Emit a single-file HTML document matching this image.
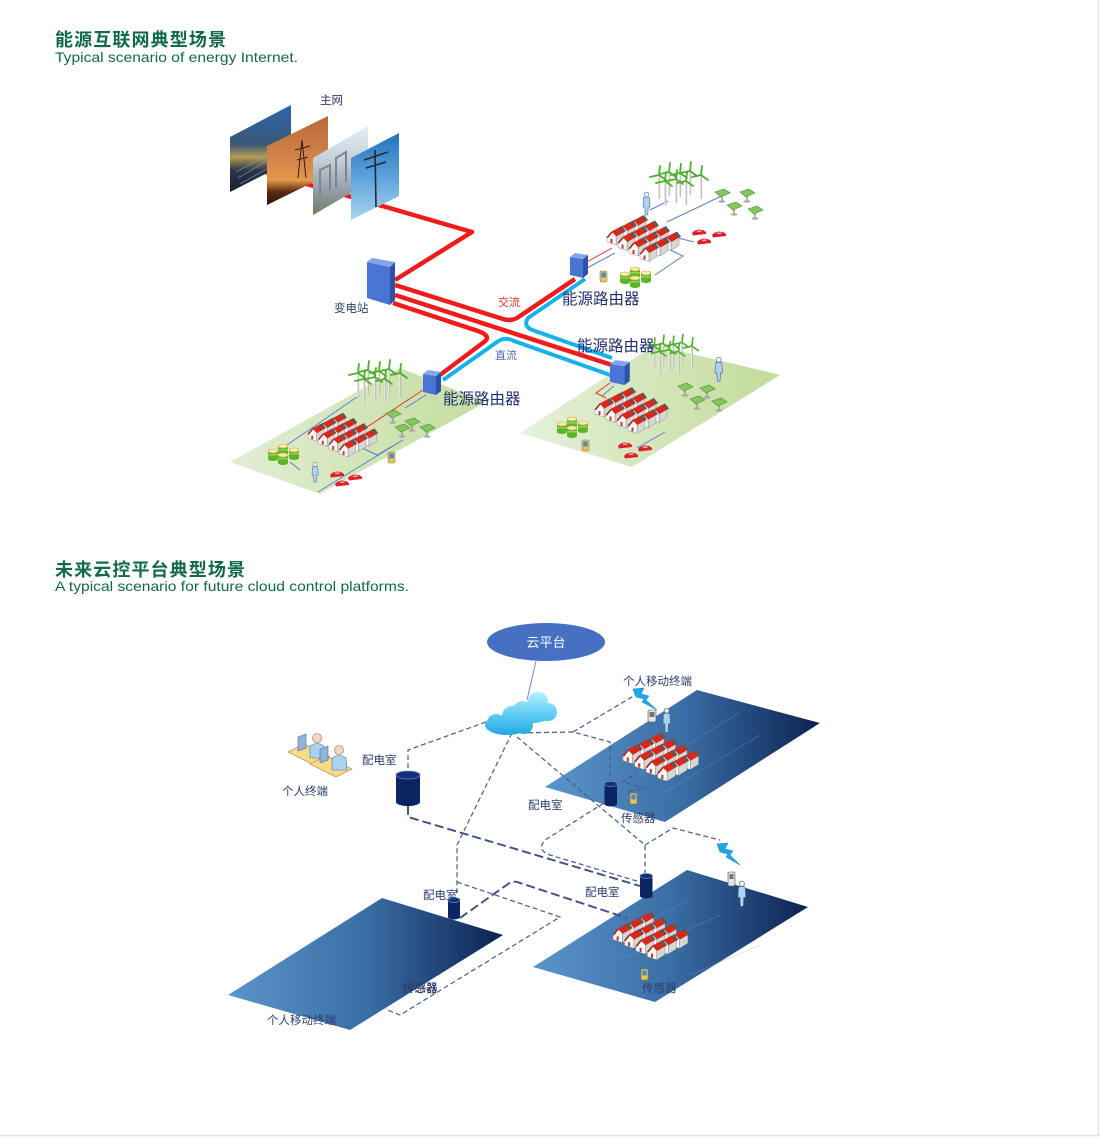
<!DOCTYPE html>
<html><head><meta charset="utf-8"><style>
html,body{margin:0;padding:0;background:#fff;}
svg{display:block;}
text{font-family:"Liberation Sans","Noto Sans CJK SC",sans-serif;}
.d{fill:none;stroke:#4a5a86;stroke-width:1.2;stroke-dasharray:5 3;}
.dt{fill:none;stroke:#3c4f82;stroke-width:1.9;stroke-dasharray:9 4;}
.lb{font-size:11.5px;fill:#2e3d6c;}
.rt{font-size:15.5px;fill:#1e2f6e;}
</style></head><body>
<svg width="1100" height="1137" viewBox="0 0 1100 1137" xmlns="http://www.w3.org/2000/svg">
<defs>
<linearGradient id="gP1" x1="0" y1="0" x2="0" y2="1"><stop offset="0" stop-color="#2a66aa"/><stop offset=".45" stop-color="#3b5878"/><stop offset=".6" stop-color="#b59a52"/><stop offset=".75" stop-color="#2b3548"/><stop offset="1" stop-color="#182030"/></linearGradient>
<linearGradient id="gP2" x1="0" y1="0" x2="0" y2="1"><stop offset="0" stop-color="#b8683a"/><stop offset=".5" stop-color="#d3864a"/><stop offset=".72" stop-color="#e39a4c"/><stop offset=".85" stop-color="#5a2a12"/><stop offset="1" stop-color="#2c1408"/></linearGradient>
<linearGradient id="gP3" x1="0" y1="0" x2="0" y2="1"><stop offset="0" stop-color="#e6eef5"/><stop offset=".35" stop-color="#c9d3dc"/><stop offset=".7" stop-color="#96a2ac"/><stop offset="1" stop-color="#6f7d62"/></linearGradient>
<linearGradient id="gP4" x1="0" y1="0" x2="0" y2="1"><stop offset="0" stop-color="#2573bd"/><stop offset=".5" stop-color="#5ba2da"/><stop offset="1" stop-color="#a9d3f0"/></linearGradient>
<linearGradient id="gGL" x1="0" y1="0" x2="1" y2="0"><stop offset="0" stop-color="#e2eed5"/><stop offset="1" stop-color="#c4dd9e"/></linearGradient>
<linearGradient id="gGR" x1="0" y1="0" x2="1" y2="0"><stop offset="0" stop-color="#e6f0db"/><stop offset="1" stop-color="#c2dc9a"/></linearGradient>
<linearGradient id="gB" x1="0" y1="0" x2="1" y2="0"><stop offset="0" stop-color="#5a95c9"/><stop offset=".5" stop-color="#3a6ea6"/><stop offset="1" stop-color="#0c2250"/></linearGradient>
<linearGradient id="gC" gradientUnits="userSpaceOnUse" x1="0" y1="692" x2="0" y2="736"><stop offset="0" stop-color="#b4efff"/><stop offset=".5" stop-color="#62cdf4"/><stop offset="1" stop-color="#1fa6e2"/></linearGradient>

<g id="hs">
<polygon points="11,-1 15,-3 19,2 16,4" fill="#5a5a5a"/>
<polygon points="9,7 17,3 17,11 9,16" fill="#d6d6d6" stroke="#7a7a7a" stroke-width=".4"/>
<polygon points="0,8 4.5,2.5 9,7 9,16 0,13" fill="#fafafa" stroke="#7a7a7a" stroke-width=".4"/>
<polygon points="4.5,2.5 12,-1.5 17,3 9.5,7.5" fill="#d4291c"/>
<polygon points="-0.5,8.5 4.5,2.5 5.5,3.5 1,9" fill="#a81c12"/>
<rect x="3.5" y="10" width="2" height="4" fill="#c0392b"/>
</g>
<g id="cl">
<use href="#hs" x="22" y="-11"/><use href="#hs" x="11" y="-5.5"/><use href="#hs" x="33" y="-5.5"/>
<use href="#hs" x="0" y="0"/><use href="#hs" x="22" y="0"/><use href="#hs" x="44" y="0"/>
<use href="#hs" x="11" y="5.5"/><use href="#hs" x="33" y="5.5"/><use href="#hs" x="55" y="5.5"/>
<use href="#hs" x="22" y="11"/><use href="#hs" x="44" y="11"/><use href="#hs" x="33" y="16.5"/>
</g>
<g id="tb">
<line x1="0" y1="0" x2="0" y2="24" stroke="#e6e6e6" stroke-width="2"/>
<line x1="0.8" y1="0" x2="0.8" y2="24" stroke="#9a9a9a" stroke-width=".6"/>
<path d="M0,0 L-9,2 M0,0 L7,5 M0,0 L1,-9" stroke="#4caf2a" stroke-width="1.8" stroke-linecap="round" fill="none"/>
</g>
<g id="tg">
<use href="#tb" x="40" y="5"/><use href="#tb" x="19" y="6"/><use href="#tb" x="30" y="7"/><use href="#tb" x="9" y="9"/>
<use href="#tb" x="51" y="9"/><use href="#tb" x="26" y="13"/><use href="#tb" x="15" y="15"/><use href="#tb" x="36" y="15"/>
</g>
<g id="sp">
<line x1="7" y1="6" x2="7" y2="12" stroke="#999" stroke-width="1.5"/>
<ellipse cx="7" cy="12.5" rx="3.5" ry="1.3" fill="#aaa"/>
<polygon points="0,3 9,0 15,4 6,8" fill="#86c65e" stroke="#4f8f3a" stroke-width=".6"/>
</g>
<g id="bt">
<path d="M0,3 V11 A5,2 0 0 0 10,11 V3Z" fill="#5fb526"/>
<rect x="0" y="6" width="10" height="1.5" fill="#8fd35a"/>
<ellipse cx="5" cy="3" rx="5" ry="2" fill="#f8eab0" stroke="#d4b04a" stroke-width=".6"/>
</g>
<g id="bg"><use href="#bt" x="10" y="0"/><use href="#bt" x="0" y="5"/><use href="#bt" x="21" y="4"/><use href="#bt" x="10" y="9"/></g>
<g id="car">
<path d="M0,4 L2,2 L6,0.5 L11,1 L14,3 L14,5 L1,6.5Z" fill="#d9222a"/>
<path d="M5,1.5 L10,1.5 L9,3 L5,3Z" fill="#f5a5a5"/>
</g>
<g id="ps">
<circle cx="3.5" cy="2.5" r="2.4" fill="#f2f2f2" stroke="#55678a" stroke-width=".6"/>
<path d="M0.5,5.5 Q3.5,4.5 6.5,5.5 L7,15 L5.2,15 L4.8,23 L2.2,23 L1.8,15 L0,15Z" fill="#a9d5f2" stroke="#55678a" stroke-width=".6"/>
</g>
<g id="ph"><rect x="0" y="0" width="7" height="11" rx="1.5" fill="#e8c65a" stroke="#8a6a2a" stroke-width=".5"/><rect x="1.3" y="1.5" width="4.4" height="5" fill="#4a8ad0"/></g>
<g id="rt">
<polygon points="0,4 13,6 13,25 0,22" fill="#4a74d4"/>
<polygon points="13,6 18,2 18,21 13,25" fill="#2c52a8"/>
<polygon points="0,4 5,0 18,2 13,6" fill="#86a4ea"/>
</g>
</defs>

<!-- headers -->
<text x="55" y="46" font-size="18" font-weight="bold" fill="#11684c" textLength="171" lengthAdjust="spacing">能源互联网典型场景</text>
<text x="55" y="62" font-size="14" fill="#11684c" textLength="243" lengthAdjust="spacingAndGlyphs">Typical scenario of energy Internet.</text>
<text x="55" y="576" font-size="18" font-weight="bold" fill="#11684c" textLength="190" lengthAdjust="spacing">未来云控平台典型场景</text>
<text x="55" y="591" font-size="14" fill="#11684c" textLength="354" lengthAdjust="spacingAndGlyphs">A typical scenario for future cloud control platforms.</text>

<!-- ===== TOP DIAGRAM ===== -->
<polygon points="230,462 400,368 486,402 320,494" fill="url(#gGL)"/>
<polygon points="520,433 655,345 780,375 632,467" fill="url(#gGR)"/>

<path d="M262,171 L472,232 L395,280" fill="none" stroke="#ee1c1c" stroke-width="4.5" stroke-linejoin="round"/>

<polygon points="230,137 291,105 291,161 230,192" fill="url(#gP1)"/>
<path d="M238,178 L285,150 M240,184 L288,157 M236,172 L280,148" stroke="#7fa0c8" stroke-width=".8" opacity=".7"/>
<polygon points="267,146 328,116 328,175 267,205" fill="url(#gP2)"/>
<path d="M298,178 L302,140 L306,178 M295,150 L310,146 M297,160 L308,157" stroke="#3a1a0c" stroke-width="1" fill="none"/>
<polygon points="313,158 368,126 368,183 313,215" fill="url(#gP3)"/>
<path d="M320,196 L320,170 L330,165 L330,190 M336,188 L336,158 L346,152 L346,182" stroke="#7a8690" stroke-width="2" fill="none"/>
<polygon points="351,158 399,133 399,196 351,220" fill="url(#gP4)"/>
<path d="M376,207 L375,150 M364,160 L388,152 M366,168 L386,162" stroke="#1e2a36" stroke-width="1.6" fill="none"/>

<text x="320" y="104" class="lb" font-size="11">主网</text>

<polygon points="367,262 390,267 390,305 367,298" fill="#4a74d4"/>
<polygon points="390,267 395,262 395,300 390,305" fill="#2c52a8"/>
<polygon points="367,262 372,258 395,262 390,267" fill="#86a4ea"/>
<text x="334" y="312" class="lb" font-size="11">变电站</text>

<g fill="none" stroke="#ee1c1c" stroke-width="4.5" stroke-linejoin="round">
<path d="M395,285 L503,319 Q512,322 520,316 L575,279"/>
<path d="M395,295 L612,365"/>
<path d="M393,303 L478,331 Q492,336 484,342 L440,375"/>
</g>
<g fill="none" stroke="#17b2ec" stroke-width="4" stroke-linejoin="round">
<path d="M585,279 L528,318 Q522,327 535,331 L612,358"/>
<path d="M443,380 L497,342 Q505,336 514,341 L613,376"/>
</g>
<text x="498" y="306" font-size="11" fill="#e42a2a">交流</text>
<text x="495" y="359" font-size="11" fill="#4a6db8">直流</text>

<!-- top-right cluster -->
<g stroke-width="1" fill="none">
<path d="M585,263 L612,248" stroke="#e33"/>
<path d="M587,268 L615,253" stroke="#5b7fd0"/>
<path d="M667,222 L730,192" stroke="#5b7fd0"/>
<path d="M650,210 L668,201" stroke="#5b7fd0"/>
<path d="M678,238 L694,242" stroke="#5b7fd0"/>
<path d="M670,250 L683,256 L655,275" stroke="#5b7fd0"/>
</g>
<use href="#tg" transform="translate(650,166)"/>
<use href="#ps" x="643" y="192"/>
<use href="#sp" x="715" y="189"/><use href="#sp" x="740" y="189"/><use href="#sp" x="727" y="202"/><use href="#sp" x="748" y="206"/>
<use href="#cl" transform="translate(607,229)"/>
<use href="#car" x="692" y="229"/><use href="#car" x="712" y="231"/><use href="#car" x="697" y="238"/>
<use href="#bg" x="620" y="266"/>
<use href="#ph" x="600" y="271"/>
<use href="#rt" x="570" y="253"/>
<text x="562" y="304" class="rt">能源路由器</text>

<!-- left cluster -->
<g stroke-width="1" fill="none">
<path d="M423,390 L367,427" stroke="#e33"/>
<path d="M426,395 L405,408" stroke="#5b7fd0"/>
<path d="M287,445 L357,397" stroke="#5b7fd0"/>
<path d="M290,462 L300,470" stroke="#5b7fd0"/>
<path d="M318,492 L403,440" stroke="#5b7fd0"/>
<path d="M360,447 L377,455 L398,443" stroke="#5b7fd0"/>
</g>
<use href="#tg" transform="translate(349,364)"/>
<use href="#sp" x="386" y="410"/><use href="#sp" x="405" y="418"/><use href="#sp" x="395" y="424"/><use href="#sp" x="420" y="424"/>
<use href="#cl" transform="translate(308,426) scale(.95)"/>
<use href="#bg" x="268" y="443"/>
<use href="#ps" transform="translate(312,462) scale(.88)"/>
<use href="#car" x="330" y="471"/><use href="#car" x="348" y="474"/><use href="#car" x="335" y="480"/>
<use href="#ph" x="388" y="452"/>
<use href="#rt" x="423" y="370"/>
<text x="443" y="404" class="rt">能源路由器</text>

<!-- right cluster -->
<g stroke-width="1" fill="none">
<path d="M610,383 L596,393 L606,398" stroke="#e33"/>
<path d="M614,386 L602,396" stroke="#5b7fd0"/>
<path d="M637,448 L665,432" stroke="#5b7fd0"/>
</g>
<use href="#tg" transform="translate(646,338) scale(.9)"/>
<use href="#ps" transform="translate(715,357) scale(1.05)"/>
<use href="#sp" x="678" y="383"/><use href="#sp" x="700" y="385"/><use href="#sp" x="690" y="396"/><use href="#sp" x="712" y="398"/>
<use href="#cl" transform="translate(595,401)"/>
<use href="#bg" x="557" y="416"/>
<use href="#ph" x="582" y="440"/>
<use href="#car" x="618" y="442"/><use href="#car" x="638" y="445"/><use href="#car" x="624" y="452"/>
<use href="#rt" transform="translate(610,360) scale(1.1,1)"/>
<text x="577" y="351" class="rt">能源路由器</text>

<!-- ===== BOTTOM DIAGRAM ===== -->
<polygon points="545,787 697,690 820,723 665,822" fill="url(#gB)"/>
<polygon points="228,995 382,898 503,935 350,1030" fill="url(#gB)"/>
<polygon points="533,967 687,870 808,907 655,1002" fill="url(#gB)"/>
<path d="M640,775 L740,712 M660,795 L760,735" stroke="#7aa6d8" stroke-width=".8" opacity=".35"/>
<path d="M610,940 L690,900 M620,960 L720,915 M690,975 L760,945" stroke="#7aa6d8" stroke-width=".8" opacity=".35"/>

<ellipse cx="546" cy="642" rx="59" ry="19" fill="#4670c2"/>
<text x="546" y="647" font-size="13" fill="#fff" text-anchor="middle">云平台</text>
<line x1="536" y1="661" x2="527" y2="700" stroke="#6f8cc8" stroke-width="1"/>

<path class="d" d="M486,722 L408,750 L408,770"/>
<path class="d" d="M512,733 L457,845 L457,895"/>
<path class="d" d="M512,733 L573,732 L610,742 L610,780"/>
<path class="d" d="M573,732 L637,694"/>
<path class="d" d="M517,737 L645,845 L645,873"/>
<path class="d" d="M645,845 L673,828 L720,840"/>
<path class="d" d="M604,803 L545,840 Q536,850 550,855 L640,882"/>
<path class="d" d="M457,882 L560,917 L400,1015 L385,1009"/>
<path class="dt" d="M408,806 L408,817 L640,886"/>
<path class="dt" d="M460,918 L508,884 Q514,880 520,883 L627,918"/>
<path class="d" d="M628,792 L645,788 L622,782 L637,773" stroke-width="1"/>

<g fill="url(#gC)">
<ellipse cx="533" cy="712" rx="20" ry="11"/><circle cx="522" cy="710" r="9"/><circle cx="538" cy="702" r="10"/><circle cx="548" cy="712" r="9"/>
<ellipse cx="507" cy="725" rx="22" ry="10"/><circle cx="496" cy="723" r="9"/><circle cx="512" cy="716" r="10"/><circle cx="524" cy="725" r="9"/>
</g>

<g>
<path d="M396,775 V802 A12,4 0 0 0 420,802 V775Z" fill="#0b2462"/>
<ellipse cx="408" cy="775" rx="12" ry="4" fill="#12307a" stroke="#6a86c4" stroke-width=".8"/>
<path d="M604.5,784 V804 A6.25,2.5 0 0 0 617,804 V784Z" fill="#0b2462"/>
<ellipse cx="610.75" cy="784" rx="6.25" ry="2.5" fill="#12307a" stroke="#6a86c4" stroke-width=".7"/>
<path d="M640,876 V896 A6.25,2.5 0 0 0 652.5,896 V876Z" fill="#0b2462"/>
<ellipse cx="646.25" cy="876" rx="6.25" ry="2.5" fill="#12307a" stroke="#6a86c4" stroke-width=".7"/>
<path d="M448,900 V917 A6,2.5 0 0 0 460,917 V900Z" fill="#0b2462"/>
<ellipse cx="454" cy="900" rx="6" ry="2.5" fill="#12307a" stroke="#6a86c4" stroke-width=".7"/>
</g>

<g stroke-width=".6">
<polygon points="288,752 304,744 330,757 314,765" fill="#f4dc8a" stroke="#a8823a"/>
<polygon points="298,737 306,734 306,748 298,751" fill="#8fb4d8" stroke="#4d6a8a"/>
<path d="M310,746 Q317,741 324,746 L325,758 L310,758Z" fill="#a9d3ee" stroke="#5a6e90"/>
<circle cx="317" cy="738" r="4.5" fill="#f6d8c0" stroke="#8a6a5a"/>
<polygon points="310,764 326,756 352,769 336,777" fill="#f4dc8a" stroke="#a8823a"/>
<polygon points="320,749 328,746 328,760 320,763" fill="#8fb4d8" stroke="#4d6a8a"/>
<path d="M332,758 Q339,753 346,758 L347,770 L332,770Z" fill="#a9d3ee" stroke="#5a6e90"/>
<circle cx="339" cy="750" r="4.5" fill="#f6d8c0" stroke="#8a6a5a"/>
</g>

<use href="#cl" transform="translate(623,747) scale(1.05)"/>
<use href="#cl" transform="translate(613,926) scale(1.04)"/>
<use href="#ps" transform="translate(663,708) scale(1.05)"/>
<use href="#ps" transform="translate(738,881) scale(1.1)"/>
<g><rect x="648" y="710" width="8" height="12" rx="1.5" fill="#e4e4e4" stroke="#555" stroke-width=".6"/><rect x="649.5" y="712" width="5" height="5" fill="#777"/></g>
<g><rect x="728" y="872" width="7" height="14" rx="1.5" fill="#e4e4e4" stroke="#555" stroke-width=".6"/><rect x="729.5" y="874" width="4" height="5" fill="#777"/></g>
<use href="#ph" x="630" y="793"/>
<use href="#ph" x="641" y="969"/>
<polygon points="633,689 644,688 641,694 649,696 646,700 657,710 642,702 644,699 636,697" fill="#1ea8e8" stroke="#0b7fc0" stroke-width=".5"/>
<polygon points="717,844 728,843 725,849 733,851 730,855 740,865 726,857 728,854 720,852" fill="#1ea8e8" stroke="#0b7fc0" stroke-width=".5"/>

<text x="362" y="764" class="lb">配电室</text>
<text x="282" y="795" class="lb">个人终端</text>
<text x="623" y="685" class="lb">个人移动终端</text>
<text x="528" y="809" class="lb">配电室</text>
<text x="621" y="822" class="lb">传感器</text>
<text x="423" y="899" class="lb">配电室</text>
<text x="585" y="896" class="lb">配电室</text>
<text x="403" y="992" class="lb" fill="#16244e" font-weight="bold">传感器</text>
<text x="267" y="1024" class="lb" fill="#1e2c58">个人移动终端</text>
<text x="642" y="992" class="lb" fill="#1e2c58">传感器</text>

<line x1="1098.5" y1="0" x2="1098.5" y2="1137" stroke="#e6e6e6" stroke-width="1.5"/>
<line x1="0" y1="1135.5" x2="1100" y2="1135.5" stroke="#e6e6e6" stroke-width="1.5"/>
</svg>
</body></html>
